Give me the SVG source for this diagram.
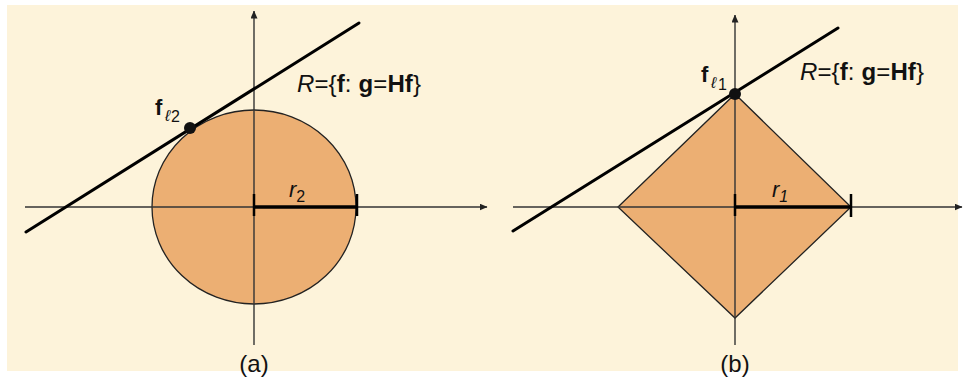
<svg xmlns="http://www.w3.org/2000/svg" width="963" height="380" viewBox="0 0 963 380">
<defs>
<marker id="arr" markerWidth="8" markerHeight="7" refX="7.5" refY="3.5" orient="auto" markerUnits="userSpaceOnUse">
<path d="M0,0 L8,3.5 L0,7 Z" fill="#222"/>
</marker>
<style>
.axis{stroke:#333;stroke-width:1.4;fill:none}
.shape{fill:#ECAF73;stroke:#222;stroke-width:1.3}
.line{stroke:#000;stroke-width:3;fill:none;stroke-linecap:round}
.rad{stroke:#000;stroke-width:3.5;fill:none}
.tick{stroke:#000;stroke-width:2.5}
.t{font-family:"Liberation Sans",Arial,sans-serif;fill:#111}
</style>
</defs>
<rect width="963" height="380" fill="#fff"/>
<rect x="7" y="5" width="951" height="366" fill="#FDF3DA"/>
<g id="panel-a">
<g id="shape-a"><ellipse class="shape" cx="254" cy="207" rx="102" ry="97"/></g>
<g id="axes-a">
<line class="axis" x1="254" y1="345" x2="254" y2="11" marker-end="url(#arr)"/>
<line class="axis" x1="25" y1="207" x2="487" y2="207" marker-end="url(#arr)"/>
</g>
<g id="radius-a">
<line class="rad" x1="254" y1="207" x2="357" y2="207"/>
<line class="tick" x1="254" y1="194" x2="254" y2="216"/>
<line class="tick" x1="357" y1="194" x2="357" y2="216"/>
<text class="t" x="289" y="197" font-size="22" font-style="italic">r<tspan font-size="16" dy="5" font-style="normal">2</tspan></text>
</g>
<g id="constraint-a">
<line class="line" x1="26" y1="232" x2="359" y2="23"/>
<text class="t" x="297" y="92" font-size="24" textLength="124"><tspan font-style="italic">R</tspan>={<tspan font-weight="bold">f</tspan>: <tspan font-weight="bold">g</tspan>=<tspan font-weight="bold">Hf</tspan>}</text>
</g>
<g id="point-a">
<circle cx="190" cy="128" r="6" fill="#111"/>
<text class="t" x="155" y="115" font-size="22" font-weight="bold">f</text>
<text class="t" x="165" y="121" font-size="16" font-style="italic" fill="#777">ℓ</text>
<text class="t" x="171" y="122" font-size="16" fill="#555">2</text>
</g>
<text class="t" x="254" y="372" font-size="24" text-anchor="middle">(a)</text>
</g>
<g id="panel-b">
<g id="shape-b"><polygon class="shape" points="735,94 851,207 735,318 618,207"/></g>
<g id="axes-b">
<line class="axis" x1="735" y1="345" x2="735" y2="15" marker-end="url(#arr)"/>
<line class="axis" x1="513" y1="207" x2="962" y2="207" marker-end="url(#arr)"/>
</g>
<g id="radius-b">
<line class="rad" x1="735" y1="207" x2="851" y2="207"/>
<line class="tick" x1="735" y1="194" x2="735" y2="216"/>
<line class="tick" x1="851" y1="194" x2="851" y2="217"/>
<text class="t" x="772" y="197" font-size="22" font-style="italic">r<tspan font-size="16" dy="5">1</tspan></text>
</g>
<g id="constraint-b">
<line class="line" x1="513" y1="231" x2="838" y2="28"/>
<text class="t" x="800" y="80" font-size="24" textLength="124"><tspan font-style="italic">R</tspan>={<tspan font-weight="bold">f</tspan>: <tspan font-weight="bold">g</tspan>=<tspan font-weight="bold">Hf</tspan>}</text>
</g>
<g id="point-b">
<circle cx="735" cy="94" r="6" fill="#111"/>
<text class="t" x="701" y="82" font-size="22" font-weight="bold">f</text>
<text class="t" x="711" y="88" font-size="16" font-style="italic" fill="#777">ℓ</text>
<text class="t" x="718" y="90" font-size="16" fill="#555">1</text>
</g>
<text class="t" x="735" y="372" font-size="24" text-anchor="middle">(b)</text>
</g>
</svg>
